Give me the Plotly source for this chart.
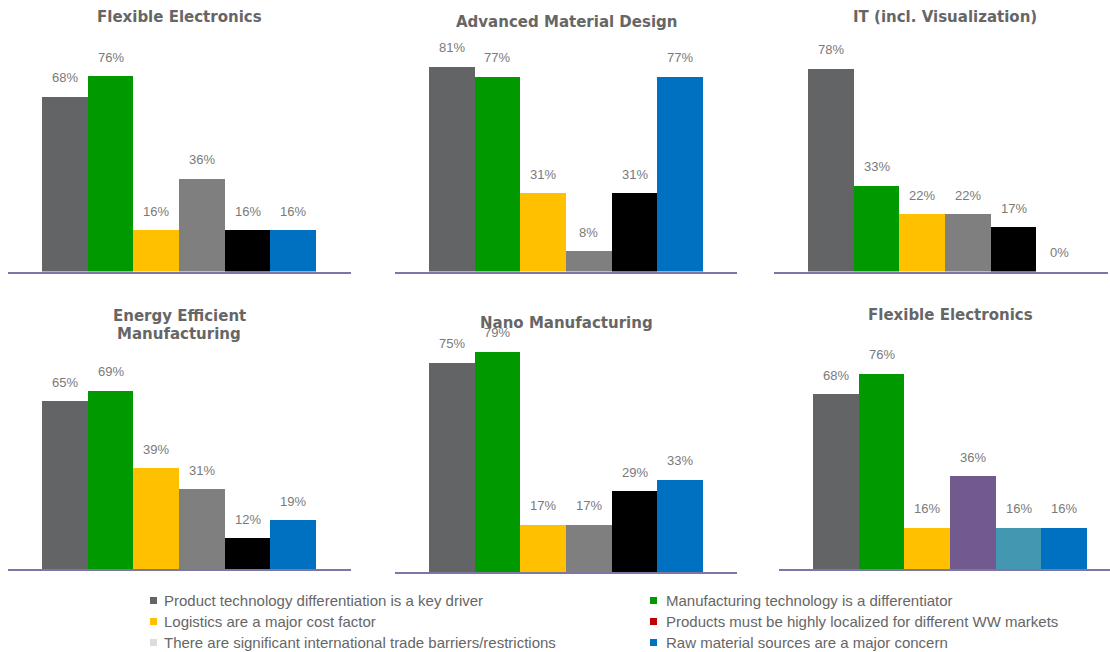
import plotly.graph_objects as go

W, H = 1110, 652

# ---------------- data ----------------
panel_titles = [
    "Flexible Electronics",
    "Advanced Material Design",
    "IT (incl. Visualization)",
    "Energy Efficient<br>Manufacturing",
    "Nano Manufacturing",
    "Flexible Electronics",
]
categories = ["c1", "c2", "c3", "c4", "c5", "c6"]
flex_elec_1 = [68, 76, 16, 36, 16, 16]
adv_material = [81, 77, 31, 8, 31, 77]
it_visual = [78, 33, 22, 22, 17, 0]
energy_eff = [65, 69, 39, 31, 12, 19]
nano_manuf = [75, 79, 17, 17, 29, 33]
flex_elec_2 = [68, 76, 16, 36, 16, 16]
panel_values = [flex_elec_1, adv_material, it_visual, energy_eff, nano_manuf, flex_elec_2]

legend_labels = [
    "Product technology differentiation is a key driver",
    "Manufacturing technology is a differentiator",
    "Logistics are a major cost factor",
    "Products must be highly localized for different WW markets",
    "There are significant international trade barriers/restrictions",
    "Raw material sources are a major concern",
]

# ---------------- styles ----------------
colors_std = ["#636466", "#009900", "#FFC000", "#7F7F7F", "#000000", "#0070C0"]
colors_p6 = ["#636466", "#009900", "#FFC000", "#72598E", "#4397B0", "#0070C0"]
panel_colors = [colors_std] * 5 + [colors_p6]
legend_colors = ["#636466", "#009900", "#FFC000", "#C00000", "#DCDCDC", "#0070C0"]

BAR_W = 45.67  # px per category
# per panel: (axis x0 px, axis x1 px, first bar left px, baseline px, top px, px per %)
geom = [
    (8, 351, 42, 271.5, 30, 2.57),
    (395, 737, 429, 271.5, 30, 2.53),
    (774, 1108, 808, 271.5, 30, 2.60),
    (8, 351, 42, 569.3, 330, 2.585),
    (395, 737, 429, 572.0, 330, 2.79),
    (779, 1110, 813, 569.0, 330, 2.57),
]
title_pos = [(179, 17), (566, 22), (945, 17), (179, 316), (566, 323), (950, 315)]
TITLE_LINE = 17.5

AXIS_COLOR = "#7A76A6"
LABEL_COLOR = "#7A7A7A"
TITLE_COLOR = "#666666"
LEGEND_TEXT = "#666666"


def px_x(p):
    return p / W


def px_y(p):
    return 1 - p / H


fig = go.Figure()
annotations = []
shapes = []

for i, (vals, cols) in enumerate(zip(panel_values, panel_colors)):
    n = i + 1
    xa = "x" if n == 1 else f"x{n}"
    ya = "y" if n == 1 else f"y{n}"
    idx = list(range(len(categories)))
    fig.add_trace(go.Bar(
        x=idx, y=vals, width=1.0,
        marker=dict(color=cols, line=dict(width=0)),
        xaxis=xa, yaxis=ya, showlegend=False, hoverinfo="skip",
    ))
    x0, x1, bl, base, top, sc = geom[i]
    c0 = bl + BAR_W / 2
    xr = [(x0 - c0) / BAR_W, (x1 - c0) / BAR_W]
    yr = [0, (base - top) / sc]
    xkey = "xaxis" if n == 1 else f"xaxis{n}"
    ykey = "yaxis" if n == 1 else f"yaxis{n}"
    fig.layout[xkey] = dict(
        domain=[px_x(x0), px_x(x1)], range=xr, anchor=ya,
        showline=True, linecolor=AXIS_COLOR, linewidth=1.5,
        showgrid=False, zeroline=False, showticklabels=False, ticks="",
        fixedrange=True,
    )
    fig.layout[ykey] = dict(
        domain=[px_y(base), px_y(top)], range=yr, anchor=xa,
        showline=False, showgrid=False, zeroline=False,
        showticklabels=False, ticks="", fixedrange=True,
    )
    for k, v in zip(idx, vals):
        annotations.append(dict(
            x=k, y=v, xref=xa, yref=ya, text=f"{v}%", showarrow=False,
            xanchor="center", yanchor="middle", yshift=19,
            font=dict(family="Liberation Sans, Arial", size=13, color=LABEL_COLOR),
        ))
    tx, ty = title_pos[i]
    for li, line in enumerate(panel_titles[i].split("<br>")):
        annotations.append(dict(
            x=px_x(tx), y=px_y(ty + li * TITLE_LINE), xref="paper", yref="paper",
            text=f"<b>{line}</b>", showarrow=False,
            xanchor="center", yanchor="middle",
            font=dict(family="DejaVu Sans, Verdana", size=15, color=TITLE_COLOR),
        ))

# legend (two columns, three rows)
leg_cols = [(150, 162), (650, 664)]
leg_rows = [600.5, 621.5, 642.5]
for j, (lab, col) in enumerate(zip(legend_labels, legend_colors)):
    r, c = divmod(j, 2)
    mx, tx = leg_cols[c]
    cy = leg_rows[r]
    shapes.append(dict(
        type="rect", xref="paper", yref="paper",
        x0=px_x(mx), x1=px_x(mx + 7), y0=px_y(cy + 3.5), y1=px_y(cy - 3.5),
        fillcolor=col, line=dict(width=0),
    ))
    annotations.append(dict(
        x=px_x(tx), y=px_y(cy), xref="paper", yref="paper", text=lab,
        showarrow=False, xanchor="left", yanchor="middle",
        font=dict(family="Liberation Sans, Arial", size=15, color=LEGEND_TEXT),
    ))

fig.update_layout(
    width=W, height=H, margin=dict(l=0, r=0, t=0, b=0),
    paper_bgcolor="white", plot_bgcolor="white",
    annotations=annotations, shapes=shapes, bargap=0,
)

fig.write_html(
    "out.html",
    config={"displayModeBar": False},
    post_script="document.body.style.margin='0px';document.body.style.overflow='hidden';",
)
